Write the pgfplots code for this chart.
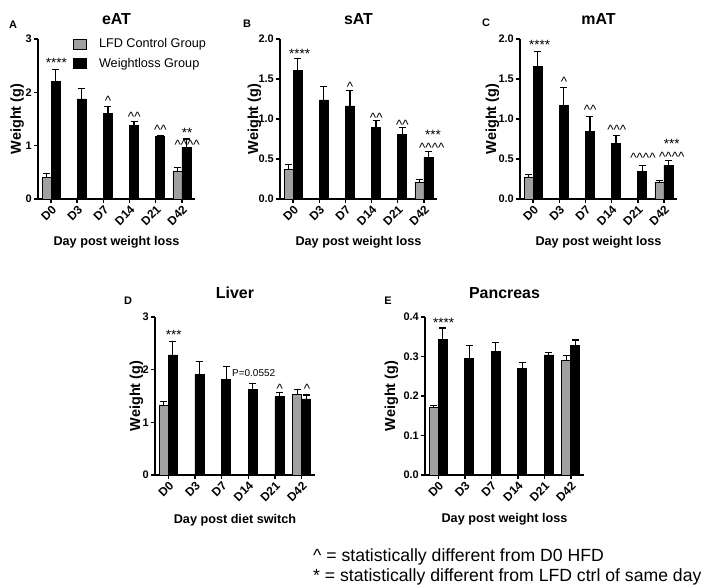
\documentclass[border=0pt]{standalone}
\usepackage{fontspec}
\setmainfont{Liberation Sans}
\usepackage{pgfplots}
\pgfplotsset{compat=1.18}
\definecolor{lfdgray}{RGB}{160,160,160}
\newcommand{\ca}{\textasciicircum}
\tikzset{ann/.style={font=\fontsize{13.5}{13.5}\selectfont, inner sep=0pt}}
\pgfplotsset{
  panel/.style={
    scale only axis, anchor=south west, clip=false,
    axis lines=left, axis line style={-, line width=1.8bp, black},
    tick align=outside, major tick length=4bp,
    every tick/.style={black, line width=1.5bp},
    xmin=-0.5, xmax=5.5, ymin=0,
    xtick={0,...,5}, xticklabels={D0,D3,D7,D14,D21,D42},
    x tick label style={rotate=45, anchor=north east, font=\bfseries\fontsize{12}{12}\selectfont, inner sep=1bp},
    y tick label style={font=\bfseries\fontsize{11}{11}\selectfont, inner sep=2bp},
    /pgf/number format/assume math mode=true,
    ybar, bar width=9bp,
    title style={anchor=base, font=\bfseries\fontsize{16}{16}\selectfont},
    xlabel style={anchor=base, font=\bfseries\fontsize{12.7}{13}\selectfont},
    ylabel style={anchor=base, font=\bfseries\fontsize{14.5}{15}\selectfont},
    ylabel={Weight (g)},
  },
  lfd/.style={fill=lfdgray, draw=black, line width=0.8bp, bar shift=-4.5bp,
    error bars/.cd, y dir=plus, y explicit,
    error bar style={line width=1.2bp, black},
    error mark options={rotate=90, black, mark size=3.5bp, line width=1.2bp}},
  wl/.style={fill=black, draw=black, line width=0.8bp, bar shift=4.5bp,
    error bars/.cd, y dir=plus, y explicit,
    error bar style={line width=1.2bp, black},
    error mark options={rotate=90, black, mark size=3.5bp, line width=1.2bp}},
}
\begin{document}
\begin{tikzpicture}[x=1bp,y=1bp]
\useasboundingbox (0bp,0bp) rectangle (709bp,588bp);

% ---------- A: eAT
\begin{axis}[panel, at={(38bp,389bp)}, width=157bp, height=160bp,
  ymax=3, ytick={0,1,2,3},
  title={eAT}, title style={at={([yshift=9bp]axis description cs:0.5,1)}},
  xlabel={Day post weight loss}, xlabel style={at={([yshift=-47bp]axis description cs:0.5,0)}},
  ylabel style={at={([xshift=-17bp]axis description cs:0,0.5)}},
  legend style={at={(axis description cs:0.223,1.015)}, anchor=north west, draw=none, fill=none,
    font=\fontsize{12.7}{13}\selectfont, row sep=5bp, column sep=10bp, inner sep=0pt},
  legend cell align=left,
  legend image code/.code={\draw[#1, line width=0.8bp] (0bp,-5bp) rectangle (13bp,5bp);},
]
\addplot[lfd] coordinates {(0,0.41) +- (0,0.065) (5,0.52) +- (0,0.07)};
\addplot[wl] coordinates {(0,2.21) +- (0,0.22) (1,1.875) +- (0,0.2) (2,1.60) +- (0,0.14) (3,1.375) +- (0,0.075) (4,1.175) +- (0,0.015) (5,0.97) +- (0,0.155)};
\legend{LFD Control Group, Weightloss Group}
\node[ann] at (axis cs:0.2,2.55) {****};
\node[ann] at (axis cs:2.18,1.84) {\ca};
\node[ann] at (axis cs:3.18,1.54) {\ca\ca};
\node[ann] at (axis cs:4.18,1.30) {\ca\ca};
\node[ann] at (axis cs:5.2,1.24) {**};
\node[ann] at (axis cs:5.2,1.02) {\ca\ca\ca\ca};
\end{axis}

% ---------- B: sAT
\begin{axis}[panel, at={(280bp,389bp)}, width=157bp, height=160bp,
  ymax=2, ytick={0,0.5,1,1.5,2},
  yticklabel style={/pgf/number format/.cd, fixed, fixed zerofill, precision=1},
  title={sAT}, title style={at={([yshift=9bp]axis description cs:0.5,1)}},
  xlabel={Day post weight loss}, xlabel style={at={([yshift=-47bp]axis description cs:0.5,0)}},
  ylabel style={at={([xshift=-22bp]axis description cs:0,0.5)}},
]
\addplot[lfd] coordinates {(0,0.364) +- (0,0.063) (5,0.209) +- (0,0.038)};
\addplot[wl] coordinates {(0,1.607) +- (0,0.153) (1,1.238) +- (0,0.168) (2,1.163) +- (0,0.193) (3,0.891) +- (0,0.088) (4,0.812) +- (0,0.079) (5,0.519) +- (0,0.079)};
\node[ann] at (axis cs:0.25,1.82) {****};
\node[ann] at (axis cs:2.18,1.40) {\ca};
\node[ann] at (axis cs:3.18,1.02) {\ca\ca};
\node[ann] at (axis cs:4.18,0.93) {\ca\ca};
\node[ann] at (axis cs:5.35,0.80) {***};
\node[ann] at (axis cs:5.3,0.645) {\ca\ca\ca\ca};
\end{axis}

% ---------- C: mAT
\begin{axis}[panel, at={(520bp,389bp)}, width=157bp, height=160bp,
  ymax=2, ytick={0,0.5,1,1.5,2},
  yticklabel style={/pgf/number format/.cd, fixed, fixed zerofill, precision=1},
  title={mAT}, title style={at={([yshift=9bp]axis description cs:0.5,1)}},
  xlabel={Day post weight loss}, xlabel style={at={([yshift=-47bp]axis description cs:0.5,0)}},
  ylabel style={at={([xshift=-24bp]axis description cs:0,0.5)}},
]
\addplot[lfd] coordinates {(0,0.276) +- (0,0.034) (5,0.209) +- (0,0.025)};
\addplot[wl] coordinates {(0,1.653) +- (0,0.192) (1,1.167) +- (0,0.23) (2,0.845) +- (0,0.188) (3,0.69) +- (0,0.105) (4,0.347) +- (0,0.076) (5,0.423) +- (0,0.058)};
\node[ann] at (axis cs:0.25,1.93) {****};
\node[ann] at (axis cs:1.18,1.46) {\ca};
\node[ann] at (axis cs:2.18,1.12) {\ca\ca};
\node[ann] at (axis cs:3.2,0.86) {\ca\ca\ca};
\node[ann] at (axis cs:4.2,0.52) {\ca\ca\ca\ca};
\node[ann] at (axis cs:5.3,0.69) {***};
\node[ann] at (axis cs:5.3,0.53) {\ca\ca\ca\ca};
\end{axis}

% ---------- D: Liver
\begin{axis}[panel, at={(155bp,113bp)}, width=160bp, height=158bp,
  ymax=3, ytick={0,1,2,3},
  title={Liver}, title style={at={([yshift=13bp]axis description cs:0.5,1)}},
  xlabel={Day post diet switch}, xlabel style={at={([yshift=-48bp]axis description cs:0.5,0)}},
  ylabel style={at={([xshift=-15bp]axis description cs:0,0.5)}},
]
\addplot[lfd] coordinates {(0,1.318) +- (0,0.076) (5,1.525) +- (0,0.105)};
\addplot[wl] coordinates {(0,2.28) +- (0,0.25) (1,1.91) +- (0,0.25) (2,1.82) +- (0,0.24) (3,1.62) +- (0,0.11) (4,1.488) +- (0,0.082) (5,1.444) +- (0,0.076)};
\node[ann] at (axis cs:0.2,2.67) {***};
\node[ann, font=\fontsize{10}{10}\selectfont] at (axis cs:3.2,1.93) {P=0.0552};
\node[ann] at (axis cs:4.18,1.63) {\ca};
\node[ann] at (axis cs:5.2,1.63) {\ca};
\end{axis}

% ---------- E: Pancreas
\begin{axis}[panel, at={(425bp,113bp)}, width=159bp, height=158bp,
  ymax=0.4, ytick={0,0.1,0.2,0.3,0.4},
  yticklabel style={/pgf/number format/.cd, fixed, fixed zerofill, precision=1},
  title={Pancreas}, title style={at={([yshift=13bp]axis description cs:0.5,1)}},
  xlabel={Day post weight loss}, xlabel style={at={([yshift=-48bp]axis description cs:0.5,0)}},
  ylabel style={at={([xshift=-30bp]axis description cs:0,0.5)}},
]
\addplot[lfd] coordinates {(0,0.170) +- (0,0.0066) (5,0.289) +- (0,0.014)};
\addplot[wl] coordinates {(0,0.343) +- (0,0.029) (1,0.294) +- (0,0.034) (2,0.312) +- (0,0.023) (3,0.269) +- (0,0.016) (4,0.304) +- (0,0.006) (5,0.328) +- (0,0.014)};
\node[ann] at (axis cs:0.2,0.385) {****};
\end{axis}

% panel letters
\node[font=\bfseries\fontsize{11}{11}\selectfont] at (13bp,563bp) {A};
\node[font=\bfseries\fontsize{11}{11}\selectfont] at (247bp,564bp) {B};
\node[font=\bfseries\fontsize{11}{11}\selectfont] at (486bp,565bp) {C};
\node[font=\bfseries\fontsize{11}{11}\selectfont] at (128bp,287bp) {D};
\node[font=\bfseries\fontsize{11}{11}\selectfont] at (388bp,287bp) {E};

% footnote
\node[anchor=west, inner sep=0pt, font=\fontsize{17.7}{20}\selectfont] at (313bp,31bp) {\ca{} = statistically different from D0 HFD};
\node[anchor=west, inner sep=0pt, font=\fontsize{17.7}{20}\selectfont] at (313bp,11bp) {* = statistically different from LFD ctrl of same day};
\end{tikzpicture}
\end{document}
